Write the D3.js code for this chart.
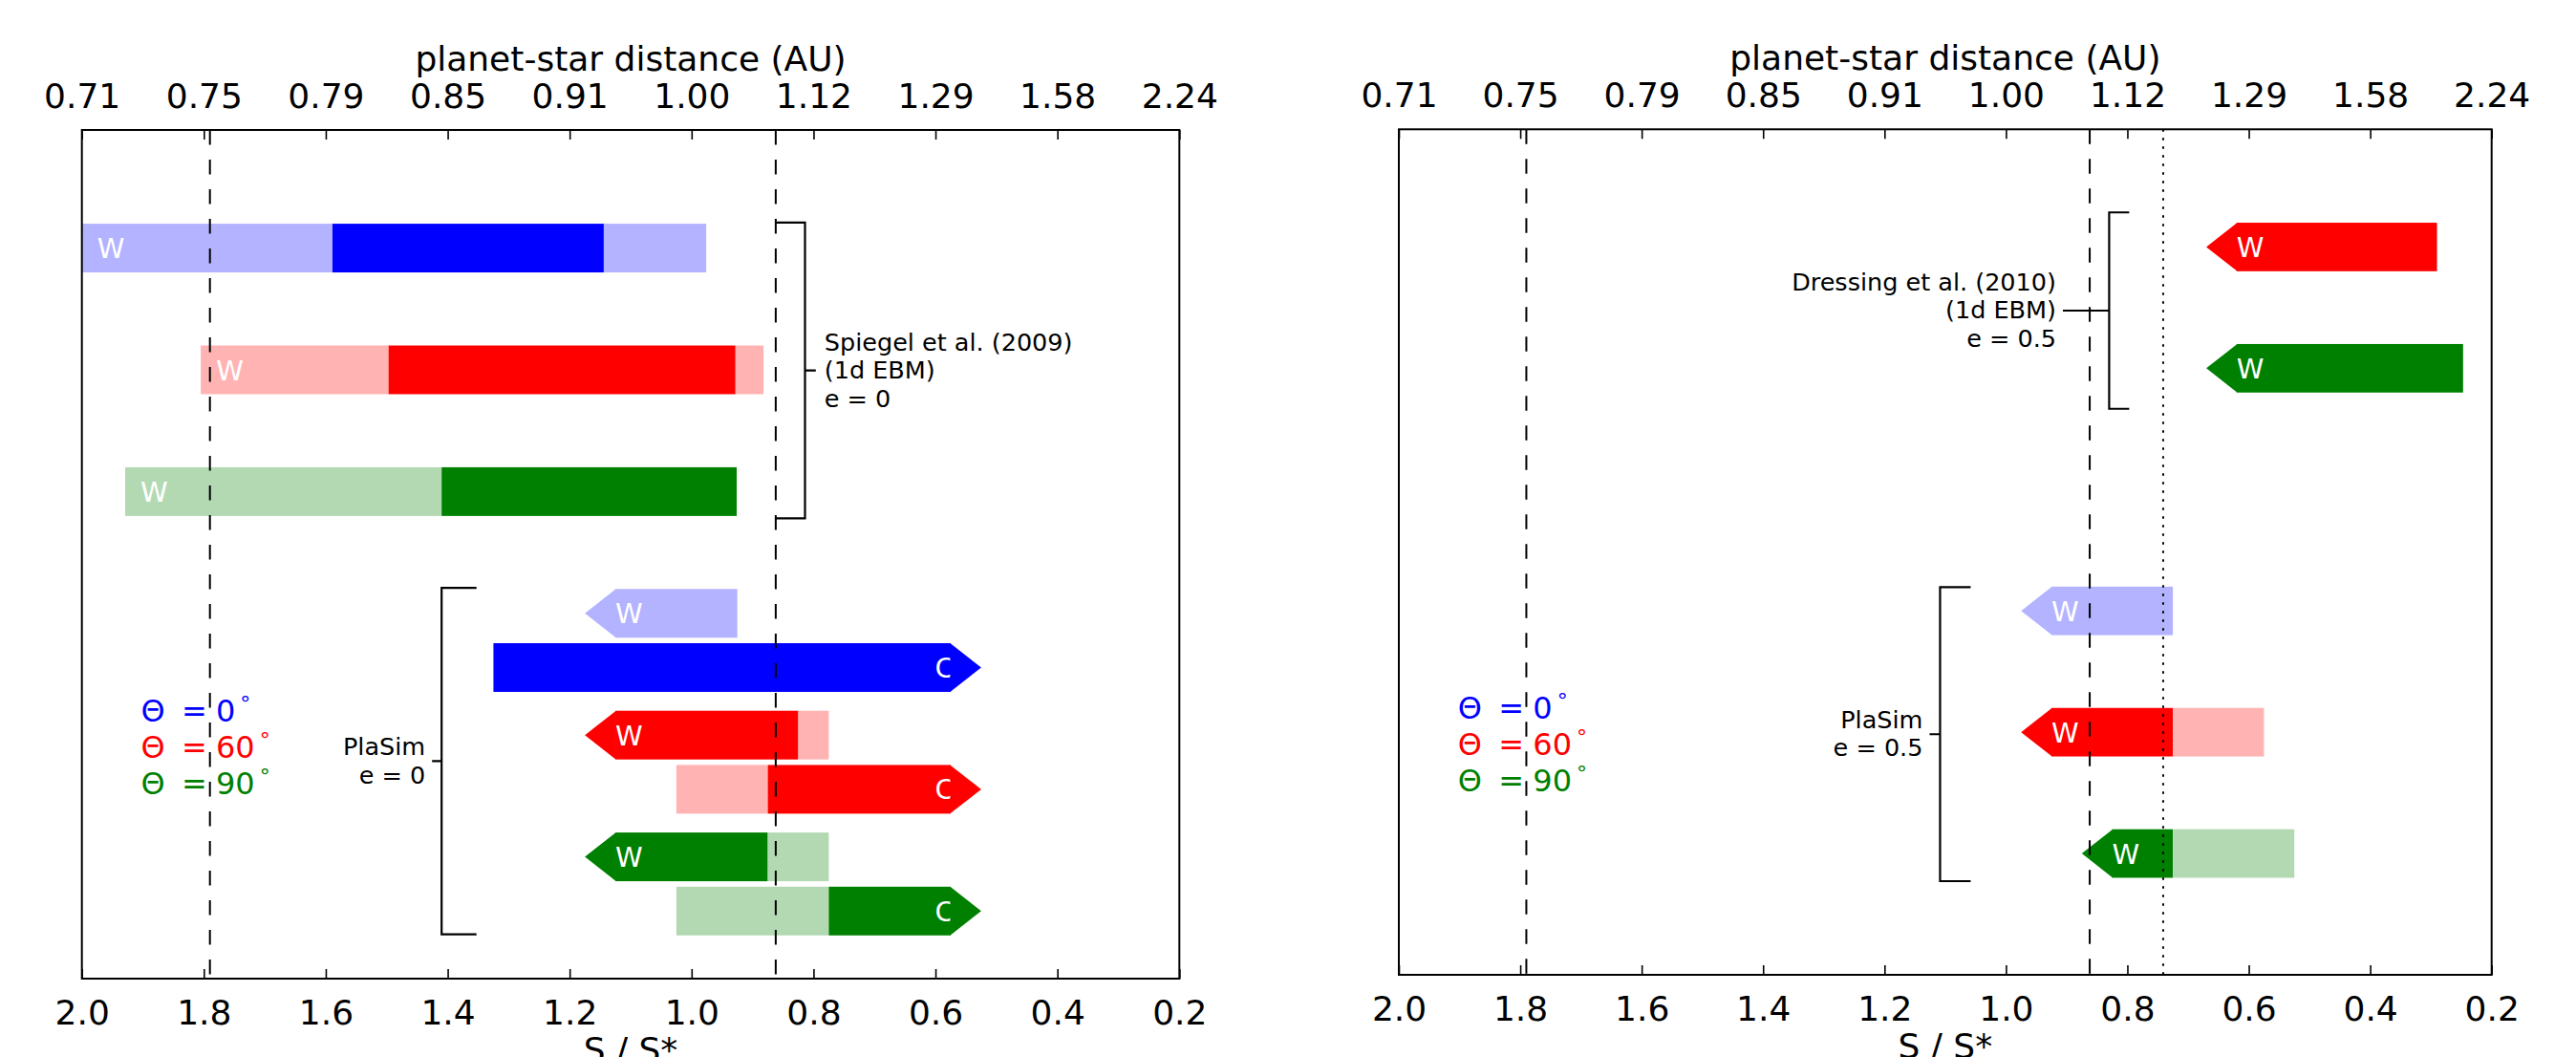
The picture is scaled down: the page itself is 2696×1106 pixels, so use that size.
<!DOCTYPE html>
<html>
<head>
<meta charset="utf-8">
<script src="https://cdn.jsdelivr.net/npm/d3@7"></script>
<style>
  body { margin: 0; background: #fff; }
  svg { display: block; }
  text { font-family: "DejaVu Sans", sans-serif; }
</style>
</head>
<body>
<div id="chart"></div>
<script>
// ---- data ----
const sTicks = [2.0, 1.8, 1.6, 1.4, 1.2, 1.0, 0.8, 0.6, 0.4, 0.2];
const sTickLabels = ["2.0", "1.8", "1.6", "1.4", "1.2", "1.0", "0.8", "0.6", "0.4", "0.2"];
const distLabels = ["0.71", "0.75", "0.79", "0.85", "0.91", "1.00", "1.12", "1.29", "1.58", "2.24"];

const hzEdges = [1.79, 0.862];   // dashed lines, both panels
const dottedEdge = 0.741;        // dotted line, right panel
const thetas = [0, 60, 90];

const barH = 0.4;      // bar thickness in row units
const headLen = 0.05;  // arrow head length in S units

// Spiegel et al. (2009), 1d EBM, e = 0  — segments [S from, S to, state]
const spiegelBars = [
  { theta: 0,  row: 6, segs: [[2.0, 1.589, "light"], [1.589, 1.144, "dark"], [1.144, 0.976, "light"]] },
  { theta: 60, row: 5, segs: [[1.805, 1.497, "light"], [1.497, 0.928, "dark"], [0.928, 0.882, "light"]] },
  { theta: 90, row: 4, segs: [[1.929, 1.41, "light"], [1.41, 0.926, "dark"]] }
];

// PlaSim, e = 0 (left panel)
const plasimE0 = [
  { theta: 0,  row: 3,     label: "W", segs: [[1.125, 0.925, "light"]] },
  { theta: 0,  row: 2.555, label: "C", segs: [[1.325, 0.575, "dark"]] },
  { theta: 60, row: 2,     label: "W", segs: [[1.125, 0.825, "dark"], [0.825, 0.775, "light"]] },
  { theta: 60, row: 1.555, label: "C", segs: [[1.025, 0.875, "light"], [0.875, 0.575, "dark"]] },
  { theta: 90, row: 1,     label: "W", segs: [[1.125, 0.875, "dark"], [0.875, 0.775, "light"]] },
  { theta: 90, row: 0.555, label: "C", segs: [[1.025, 0.775, "light"], [0.775, 0.575, "dark"]] }
];

// PlaSim, e = 0.5 (right panel)
const plasimE05 = [
  { theta: 0,  row: 3, label: "W", segs: [[0.925, 0.725, "light"]] },
  { theta: 60, row: 2, label: "W", segs: [[0.925, 0.725, "dark"], [0.725, 0.575, "light"]] },
  { theta: 90, row: 1, label: "W", segs: [[0.825, 0.725, "dark"], [0.725, 0.525, "light"]] }
];

// Dressing et al. (2010), 1d EBM, e = 0.5 (right panel)
const dressingBars = [
  { theta: 60, row: 6, label: "W", segs: [[0.62, 0.29, "dark"]] },
  { theta: 90, row: 5, label: "W", segs: [[0.62, 0.247, "dark"]] }
];

// brackets: panel, S of the vertical stroke, row span, which way the arms point
const brackets = [
  { panel: 0, s: 0.814,  lo: 3.78,  hi: 6.21,  arms: -1, text: ["Spiegel et al. (2009)", "(1d EBM)", "e = 0"] },
  { panel: 0, s: 1.41,   lo: 0.364, hi: 3.21,  arms: 1,  text: ["PlaSim", "e = 0"] },
  { panel: 1, s: 1.1085, lo: 0.772, hi: 3.195, arms: 1,  text: ["PlaSim", "e = 0.5"] },
  { panel: 1, s: 0.83,   lo: 4.666, hi: 6.285, arms: 1,  text: ["Dressing et al. (2010)", "(1d EBM)", "e = 0.5"] }
];
const bracketArm = [31, 36.5, 32, 21];
const bracketTick = [11.3, 10, 11, 48.4];

// ---- styling ----
const thetaColors = {
  0:  { dark: "#0000ff", light: "#b3b3ff" },
  60: { dark: "#ff0000", light: "#ffb3b3" },
  90: { dark: "#008000", light: "#b3d9b3" }
};
const FONT = "DejaVu Sans";

const svg = d3.select("#chart").append("svg")
  .attr("width", 2696)
  .attr("height", 1106)
  .style("background", "#fff");

const panels = [
  { x0: 85.7, x1: 1234.3, y0: 136,   y1: 1024 },
  { x0: 1464, x1: 2607.7, y0: 135.3, y1: 1020 }
].map(p => Object.assign(p, {
  x: d3.scaleLinear().domain([2.0, 0.2]).range([p.x0, p.x1]),
  y: d3.scaleLinear().domain([0, 6.97]).range([p.y1, p.y0]),
  g: svg.append("g")
}));

function drawBar(p, bar, arrow) {
  const col = thetaColors[bar.theta];
  const yt = p.y(bar.row + barH / 2), yb = p.y(bar.row - barH / 2), yc = p.y(bar.row);

  bar.segs.forEach(([a, b, state]) => {
    p.g.append("rect")
      .attr("x", p.x(a))
      .attr("y", yt)
      .attr("width", p.x(b) - p.x(a))
      .attr("height", yb - yt)
      .attr("fill", col[state]);
  });

  const label = p.g.append("text")
    .attr("y", yc + 10.6)
    .attr("fill", "#fff")
    .attr("font-size", 29)
    .attr("font-family", FONT);

  if (!arrow) {
    // plain EBM bar: "W" near the left end
    label.attr("x", p.x(bar.segs[0][0]) + 16).text("W");
    return;
  }

  if (bar.label === "W") {
    const first = bar.segs[0];
    const s0 = first[0];
    p.g.append("polygon")
      .attr("points", [[p.x(s0) + 0.6, yt], [p.x(s0 + headLen), yc], [p.x(s0) + 0.6, yb]].join(" "))
      .attr("fill", col[first[2]]);
    label.attr("x", p.x(s0)).text("W");
  } else {
    const last = bar.segs[bar.segs.length - 1];
    const s1 = last[1];
    p.g.append("polygon")
      .attr("points", [[p.x(s1) - 0.6, yt], [p.x(s1 - headLen), yc], [p.x(s1) - 0.6, yb]].join(" "))
      .attr("fill", col[last[2]]);
    label.attr("x", p.x(s1) - 6.4).attr("text-anchor", "middle").text("C");
  }
}

spiegelBars.forEach(b => drawBar(panels[0], b, false));
plasimE0.forEach(b => drawBar(panels[0], b, true));
plasimE05.forEach(b => drawBar(panels[1], b, true));
dressingBars.forEach(b => drawBar(panels[1], b, true));

// legend (axes fraction)
panels.forEach(p => {
  const h = p.y1 - p.y0;
  thetas.forEach((t, i) => {
    const by = p.y0 + 0.697 * h + i * 38.1;
    const c = thetaColors[t].dark;
    const lg = p.g.append("g").attr("fill", c).attr("font-family", FONT).attr("font-size", 32);
    lg.append("text").attr("x", p.x0 + 61.7).attr("y", by).text("Θ");
    lg.append("text").attr("x", p.x0 + 104.3).attr("y", by).text("=");
    const num = lg.append("text").attr("x", p.x0 + 140.3).attr("y", by);
    num.append("tspan").text(t);
    num.append("tspan").attr("dx", 5).attr("dy", -11).attr("font-size", 22).text("°");
  });
});

// reference lines
panels.forEach((p, pi) => {
  hzEdges.forEach(s => {
    p.g.append("line")
      .attr("x1", p.x(s)).attr("x2", p.x(s))
      .attr("y1", p.y0).attr("y2", p.y1)
      .attr("stroke", "#000")
      .attr("stroke-width", 2)
      .attr("stroke-dasharray", "15.5 15.5");
  });
  if (pi === 1) {
    p.g.append("line")
      .attr("x1", p.x(dottedEdge)).attr("x2", p.x(dottedEdge))
      .attr("y1", p.y0).attr("y2", p.y1)
      .attr("stroke", "#000")
      .attr("stroke-width", 2)
      .attr("stroke-dasharray", "2.5 6.5");
  }
});

// brackets with their text
brackets.forEach((b, i) => {
  const p = panels[b.panel];
  const xv = p.x(b.s), yTop = p.y(b.hi), yBot = p.y(b.lo), yMid = (yTop + yBot) / 2;
  const arm = bracketArm[i] * b.arms, tick = bracketTick[i] * -b.arms;
  p.g.append("path")
    .attr("d", `M${xv + arm},${yTop}H${xv}V${yBot}H${xv + arm}M${xv},${yMid}H${xv + tick}`)
    .attr("fill", "none")
    .attr("stroke", "#000")
    .attr("stroke-width", 2.2);

  const n = b.text.length;
  const t = p.g.append("text")
    .attr("font-family", FONT)
    .attr("font-size", 25.5)
    .attr("fill", "#000")
    .attr("text-anchor", b.arms < 0 ? "start" : "end");
  const tx = b.arms < 0 ? xv + tick + 9 : xv + tick - 7;
  b.text.forEach((line, k) => {
    t.append("tspan")
      .attr("x", tx)
      .attr("y", yMid + 8.5 + (k - (n - 1) / 2) * 29.5)
      .text(line);
  });
});

// axes, frame, titles
panels.forEach(p => {
  const bottom = p.g.append("g")
    .attr("transform", `translate(0,${p.y1})`)
    .call(d3.axisBottom(p.x).tickValues(sTicks).tickFormat((d, i) => sTickLabels[i]).tickSize(-10).tickSizeOuter(0));
  const top = p.g.append("g")
    .attr("transform", `translate(0,${p.y0})`)
    .call(d3.axisTop(p.x).tickValues(sTicks).tickFormat((d, i) => distLabels[i]).tickSize(-10).tickSizeOuter(0));

  [bottom, top].forEach(ax => {
    ax.attr("font-family", FONT).attr("font-size", 36);
    ax.select(".domain").remove();
    ax.selectAll(".tick line").attr("stroke", "#000").attr("stroke-width", 1.6);
    ax.selectAll(".tick text").attr("fill", "#000").attr("dy", null);
  });
  bottom.selectAll(".tick text").attr("y", 48);
  top.selectAll(".tick text").attr("y", -23);

  p.g.append("rect")
    .attr("x", p.x0).attr("y", p.y0)
    .attr("width", p.x1 - p.x0).attr("height", p.y1 - p.y0)
    .attr("fill", "none")
    .attr("stroke", "#000")
    .attr("stroke-width", 2);

  const cx = (p.x0 + p.x1) / 2;
  p.g.append("text")
    .attr("x", cx).attr("y", p.y0 - 62)
    .attr("text-anchor", "middle")
    .attr("font-family", FONT).attr("font-size", 36)
    .text("planet-star distance (AU)");
  p.g.append("text")
    .attr("x", cx).attr("y", p.y1 + 87)
    .attr("text-anchor", "middle")
    .attr("font-family", FONT).attr("font-size", 36)
    .text("S / S*");
});
</script>
</body>
</html>
